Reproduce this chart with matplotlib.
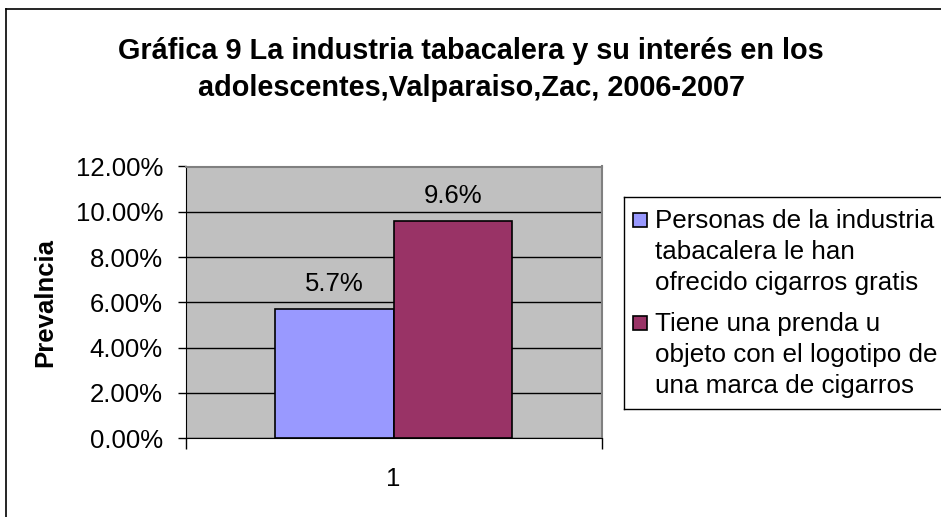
import matplotlib
matplotlib.use("Agg")
import matplotlib.pyplot as plt
from matplotlib.patches import Rectangle
from matplotlib.lines import Line2D
from matplotlib.ticker import FuncFormatter, FixedLocator

plt.rcParams['font.family'] = ['Liberation Sans', 'DejaVu Sans']

# ---- data ----
categories = ["1"]
series_names = [
    "Personas de la industria\ntabacalera le han\nofrecido cigarros gratis",
    "Tiene una prenda u\nobjeto con el logotipo de\nuna marca de cigarros",
]
series_values = [[0.057], [0.096]]
value_labels = ["5.7%", "9.6%"]
series_colors = ["#9999FF", "#993366"]
y_ticks = [0.0, 0.02, 0.04, 0.06, 0.08, 0.10, 0.12]
title = "Gráfica 9 La industria tabacalera y su interés en los\nadolescentes,Valparaiso,Zac, 2006-2007"
y_label = "Prevalncia"

W, H = 941, 517
FS = 18.5
fig = plt.figure(figsize=(W / 100, H / 100), dpi=100)

# outer chart border (only left and top edges are inside the picture)
fig.add_artist(Line2D([6 / W, 6 / W], [0, 1 - 9 / H], transform=fig.transFigure,
                      color="black", linewidth=1.2))
fig.add_artist(Line2D([6 / W, 1], [1 - 9 / H, 1 - 9 / H], transform=fig.transFigure,
                      color="black", linewidth=1.2))

ax = fig.add_axes([185.5 / W, (H - 438.3) / H, 416 / W, (438.3 - 166.5) / H])
ax.set_facecolor("#C0C0C0")

bw = 0.285
n = len(series_values)
for i, (vals, name, col) in enumerate(zip(series_values, series_names, series_colors)):
    xs = [k + 1 + (i - (n - 1) / 2) * bw for k in range(len(categories))]
    bars = ax.bar(xs, vals, width=bw, color=col, edgecolor="black", linewidth=1.2, zorder=3)
    for b, lab in zip(bars, [value_labels[i]]):
        ax.annotate(lab, (b.get_x() + b.get_width() / 2, b.get_height()),
                    xytext=(0, 9.5), textcoords="offset points",
                    ha="center", va="bottom", fontsize=FS)

ax.set_xlim(0.5, len(categories) + 0.5)
ax.set_ylim(y_ticks[0], y_ticks[-1])
ax.yaxis.set_major_locator(FixedLocator(y_ticks))
ax.yaxis.set_major_formatter(FuncFormatter(lambda v, p: f"{v * 100:.2f}%"))
ax.grid(axis="y", color="black", linewidth=1.0, zorder=1)
ax.tick_params(axis="y", direction="out", length=5.5, width=1, pad=10.7, labelsize=FS)

# category axis: ticks at category boundaries, label in middle
ax.set_xticks([k + 0.5 for k in range(len(categories) + 1)])
ax.set_xticklabels([])
ax.set_xticks([k + 1 for k in range(len(categories))], minor=True)
ax.set_xticklabels(categories, minor=True)
ax.tick_params(axis="x", which="major", direction="out", length=8, width=1)
ax.tick_params(axis="x", which="minor", length=0, pad=21, labelsize=FS)

for s in ["top", "right"]:
    ax.spines[s].set_color("#808080")
    ax.spines[s].set_linewidth(1.5)
ax.spines["left"].set_color("black")
ax.spines["bottom"].set_color("black")

ax.set_ylabel(y_label, fontsize=FS, fontweight="bold")
ax.yaxis.set_label_coords(-128.5 / 416, 0.5)

fig.text(471 / W, 1 - 69.5 / H, title, ha="center", va="center", fontsize=20.8,
         fontweight="bold", linespacing=1.42)

# legend (drawn manually to keep markers at the first line)
lx, ltop, lbot = 623.5, 197.5, 409
fig.patches.append(Rectangle((lx / W, 1 - lbot / H), (W - lx) / W, (lbot - ltop) / H,
                             transform=fig.transFigure, facecolor="white",
                             edgecolor="none", zorder=5))
for xs_, ys_ in [([lx, W + 5], [ltop, ltop]), ([lx, W + 5], [lbot, lbot]), ([lx, lx], [ltop, lbot])]:
    fig.add_artist(Line2D([x / W for x in xs_], [1 - y / H for y in ys_], transform=fig.transFigure,
                          color="black", linewidth=1.0, zorder=6))
line_h = 30.8
y_cursor = 228
for name, col in zip(series_names, series_colors):
    lines = name.split("\n")
    fig.patches.append(Rectangle((633 / W, 1 - (y_cursor - 1) / H), 14 / W, 14 / H,
                                 transform=fig.transFigure, facecolor=col,
                                 edgecolor="black", linewidth=1.2, zorder=6))
    for ln in lines:
        fig.text(655 / W, 1 - y_cursor / H, ln, ha="left", va="baseline",
                 fontsize=18.7, zorder=7)
        y_cursor += line_h
    y_cursor += 11

fig.savefig("out.png", dpi=100)
